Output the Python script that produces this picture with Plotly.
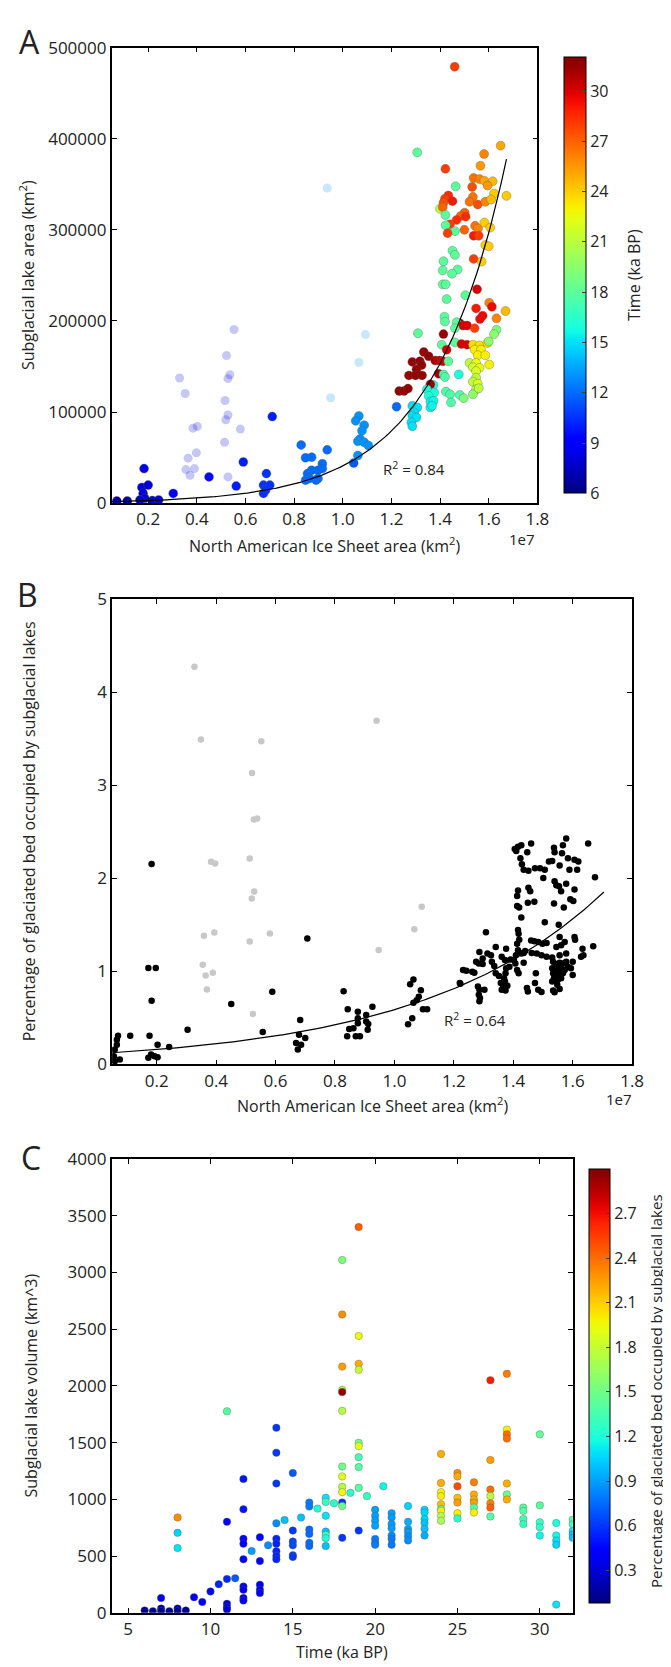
import numpy as np
import plotly.graph_objects as go

# ---------------- Panel A data (x in 1e7 km^2, lake area km^2, time ka BP) -------------
A_area = [0.071, 0.114, 0.183, 0.174, 0.200, 0.179, 0.186, 0.166, 0.217, 0.243, 0.303, 0.450,
          0.591, 0.562, 0.710, 0.686, 0.674, 0.683, 0.700, 0.674, 0.829, 0.847, 0.872, 0.855,
          0.872, 0.863, 0.847, 0.898, 0.916, 0.916, 0.898, 0.936, 0.890, 1.045, 1.066, 1.053,
          1.088, 1.071, 1.079, 1.062, 1.088, 1.105, 1.062,
          1.46, 1.306, 1.649, 1.581, 1.422, 1.566, 1.464, 1.538, 1.562, 1.582, 1.616, 1.595,
          1.532, 1.622, 1.673, 1.434, 1.420, 1.414, 1.451, 1.535, 1.521, 1.555, 1.586, 1.610,
          1.400, 1.411, 1.422, 1.501, 1.485, 1.468, 1.441, 1.423, 1.505, 1.544, 1.556, 1.582,
          1.606, 1.500, 1.461, 1.431, 1.538, 1.559, 1.586, 1.600, 1.451, 1.461, 1.538, 1.571,
          1.414, 1.411, 1.472, 1.449, 1.411, 1.423, 1.504, 1.427, 1.552, 1.602,
          1.548, 1.613, 1.669, 1.575, 1.564, 1.632, 1.418, 1.420, 1.481, 1.468, 1.494, 1.511,
          1.542, 1.461, 1.632, 1.622, 1.309, 1.414, 1.461, 1.488, 1.511, 1.535, 1.562, 1.595,
          1.600, 1.407, 1.427, 1.542, 1.568, 1.333, 1.353, 1.555, 1.586, 1.380, 1.398, 1.411,
          1.286, 1.317, 1.434, 1.521, 1.548, 1.602, 1.324, 1.535, 1.562, 1.303, 1.548, 1.394,
          1.477, 1.414, 1.272, 1.299, 1.326, 1.420, 1.548, 1.535, 1.555, 1.373, 1.360, 1.548,
          1.232, 1.252, 1.268, 1.346, 1.376, 1.424, 1.441, 1.481, 1.497, 1.535, 1.559, 1.353,
          1.445, 1.360, 1.373, 1.360, 1.367, 1.221, 1.286, 1.306, 1.293, 1.286, 1.303, 1.282,
          1.286]
A_lake = [2500, 2500, 38000, 17400, 19900, 10800, 5400, 3600, 2900, 3600, 10800, 28900,
          45200, 18800, 95100, 32500, 19900, 14500, 19900, 10800, 64000, 49900, 50600, 32500,
          36200, 27100, 25300, 36200, 43400, 38000, 27100, 58600, 25300, 44100, 95800, 90400,
          85700, 70500, 79600, 68000, 66900, 63300, 52400,
          479000, 385000, 392400, 383300, 367000, 370300, 347800, 356900, 355800, 354000, 353300, 348600,
          347100, 339900, 337300, 337700, 334100, 329700, 331500, 336200, 330800, 327900, 330800, 333300,
          323200, 325000, 316300, 318800, 315200, 310900, 306200, 305100, 314500, 304400, 301500, 308000,
          302500, 300000, 298600, 296400, 293500, 293500, 283300, 281900, 277200, 272500, 268100, 265200,
          265600, 255500, 256500, 251800, 240200, 240200, 228300, 224000, 234800, 220000,
          213800, 215600, 210900, 205800, 202200, 202900, 204700, 199300, 197500, 198600, 195000, 195000,
          192100, 192100, 190300, 185600, 186600, 185600, 176500, 174700, 174000, 174000, 173200, 175800,
          177600, 174000, 168500, 168500, 168500, 166000, 161300, 162400, 162400, 156600, 156600, 155800,
          155100, 155800, 155800, 154000, 154000, 152200, 151500, 149300, 148600, 146800, 145000, 142100,
          141300, 141300, 140300, 140300, 140300, 138500, 137700, 133400, 131200, 129700, 130500, 125000,
          123200, 123200, 125800, 125000, 121400, 122500, 119600, 118900, 115300, 119600, 126100, 117800,
          110600, 111600, 112400, 105100, 106900, 105900, 106900, 105100, 99700, 96100, 94200, 88800,
          84500]
A_time = [7, 7, 8.5, 8, 8, 8, 8, 7.5, 8, 8, 9, 9.5,
          10, 10, 10, 10.5, 10.5, 10.5, 10.5, 10.5, 12, 12, 12, 12,
          12, 12, 12, 12, 12, 12, 12, 12, 12, 11.5, 13, 13,
          13, 13, 13, 13, 13, 13, 13,
          28, 18, 25, 26, 28, 25.5, 18, 26.5, 26, 25, 24.5, 25.5,
          27.5, 24, 24, 28.5, 28, 27.5, 29, 26.5, 26.5, 27.5, 26, 24.5,
          21, 27, 18, 27, 27, 28.5, 28, 18, 28.5, 26.5, 26, 24,
          24, 27, 18, 28, 29, 28, 24, 24, 18, 18, 28, 24,
          18, 18, 18, 18, 18, 18, 18, 18, 30, 26,
          29, 29.5, 24.5, 29.5, 29.5, 26, 18, 18, 31.5, 18, 30, 30,
          28, 18, 19, 19.5, 18, 31.5, 18, 30, 30, 23.5, 23.5, 23.5,
          19.5, 18, 30, 23, 23, 31.5, 31.5, 23, 23, 31, 30.5, 30,
          31.5, 31.5, 18, 21, 22.5, 23, 31.5, 21.5, 22.5, 31.5, 22, 31,
          16, 17.5, 31.5, 31.5, 31.5, 17.5, 21, 21, 22, 16, 31.5, 21,
          31.5, 31.5, 31.5, 16, 16, 17.5, 17.5, 17.5, 19, 19.5, 21, 16,
          17.5, 15.5, 15.5, 15.5, 15.5, 12, 15, 15, 15, 15, 15, 15,
          15]
# faded (semi-transparent) points of panel A
A_faded_area = [0.329, 0.352, 0.384, 0.402, 0.398, 0.364, 0.355, 0.372, 0.390, 0.553, 0.522,
                0.536, 0.528, 0.516, 0.528, 0.519, 0.579, 0.514, 0.528,
                0.936, 1.093, 1.066, 0.950]
A_faded_lake = [137400, 120400, 82400, 84300, 55300, 49500, 36900, 30700, 38000, 190600, 162000,
                141000, 136700, 112800, 96900, 91500, 81400, 66900, 28900,
                345800, 185100, 154400, 115700]
A_faded_time = [8] * 19 + [13] * 4
A_fit = (1511.0, 3.3)          # y = a*exp(b*x)
A_fit_range = (0.05, 1.673)

# ---------------- Panel B data (x in 1e7 km^2, % of glaciated bed) ----------------------
B_area = [0.066, 0.059, 0.056, 0.059, 0.070, 0.066, 0.076, 0.111, 0.183, 0.172, 0.197, 0.183,
          0.176, 0.172, 0.181, 0.193, 0.203, 0.203, 0.242, 0.304, 0.451, 0.557, 0.589, 0.707,
          0.683, 0.679, 0.669, 0.675, 0.686, 0.700, 0.829, 0.843, 0.848, 0.841, 0.862, 0.877,
          0.877, 0.877, 0.870, 0.884, 0.905, 0.905, 0.912, 0.910, 0.926, 1.046, 1.053, 1.064,
          1.064, 1.075, 1.082, 1.089, 1.096, 1.110, 1.060, 1.222,
          1.405, 1.416, 1.427, 1.410, 1.460, 1.424, 1.429, 1.435, 1.447, 1.473, 1.490, 1.506,
          1.501, 1.451, 1.539, 1.537, 1.567, 1.578, 1.564, 1.584, 1.606, 1.619, 1.520, 1.531,
          1.556, 1.589, 1.615, 1.652, 1.675, 1.539, 1.545, 1.554, 1.578, 1.606, 1.561, 1.451,
          1.457, 1.416, 1.413, 1.449, 1.471, 1.413, 1.420, 1.537, 1.570, 1.592, 1.602, 1.427,
          1.506, 1.553, 1.308, 1.416, 1.418, 1.420, 1.460, 1.471, 1.484, 1.498, 1.512, 1.556,
          1.606, 1.608, 1.573, 1.561, 1.545, 1.413, 1.416, 1.409, 1.427, 1.376, 1.341, 1.325,
          1.313, 1.286, 1.297, 1.275, 1.284, 1.297, 1.328, 1.336, 1.231, 1.242, 1.262, 1.269,
          1.361, 1.372, 1.391, 1.402, 1.407, 1.387, 1.435, 1.435, 1.440, 1.462, 1.479, 1.495,
          1.512, 1.531, 1.556, 1.578, 1.628, 1.636, 1.669, 1.633, 1.534, 1.545, 1.556, 1.567,
          1.578, 1.600, 1.531, 1.539, 1.550, 1.561, 1.573, 1.584, 1.594, 1.534, 1.545, 1.556,
          1.567, 1.537, 1.550, 1.561, 1.600, 1.531, 1.548, 1.556, 1.539, 1.534, 1.476, 1.473,
          1.484, 1.495, 1.446, 1.449, 1.413, 1.418, 1.376, 1.374, 1.369, 1.372, 1.365, 1.380,
          1.358, 1.361, 1.374, 1.352, 1.341, 1.281, 1.286, 1.303, 1.284, 1.288, 1.286, 1.220]
B_pct = [0.212, 0.159, 0.088, 0.035, 0.308, 0.265, 0.053, 0.308, 2.152, 1.034, 1.034, 0.683,
         0.308, 0.071, 0.106, 0.088, 0.212, 0.078, 0.188, 0.372, 0.648, 0.347, 0.779, 1.352,
         0.478, 0.319, 0.230, 0.159, 0.212, 0.283, 0.786, 0.591, 0.379, 0.301, 0.389, 0.566,
         0.496, 0.442, 0.301, 0.301, 0.531, 0.460, 0.435, 0.372, 0.619, 0.432, 0.860, 0.913,
         0.662, 0.690, 0.726, 0.796, 0.591, 0.591, 0.496, 0.867,
         2.313, 2.338, 2.355, 2.292, 2.373, 2.214, 2.151, 2.091, 2.278, 2.108, 2.108, 2.091,
         2.002, 2.080, 2.278, 2.327, 2.355, 2.426, 2.267, 2.214, 2.197, 2.179, 2.179, 2.186,
         2.137, 2.091, 2.091, 2.373, 2.009, 1.967, 1.925, 1.914, 1.939, 1.879, 1.861, 1.896,
         1.861, 1.868, 1.808, 1.737, 1.748, 1.702, 1.685, 1.727, 1.685, 1.773, 1.755, 1.579,
         1.526, 1.501, 1.420, 1.444, 1.402, 1.339, 1.332, 1.324, 1.314, 1.296, 1.303, 1.367,
         1.367, 1.339, 1.314, 1.279, 1.261, 1.296, 1.225, 1.173, 1.190, 1.243, 1.261, 1.173,
         1.190, 1.208, 1.137, 1.102, 1.084, 1.077, 1.102, 1.056, 1.014, 1.007, 0.996, 0.985,
         1.155, 1.120, 1.127, 1.120, 1.084, 1.049, 1.091, 1.197, 1.218, 1.197, 1.190, 1.173,
         1.155, 1.148, 1.173, 1.190, 1.155, 1.173, 1.268, 1.243, 1.102, 1.077, 1.091, 1.084,
         1.102, 1.102, 1.032, 1.014, 1.021, 1.032, 1.014, 1.049, 1.032, 0.978, 0.961, 0.971,
         0.978, 0.925, 0.908, 0.925, 0.961, 0.890, 0.855, 0.809, 0.774, 0.795, 0.978, 0.873,
         0.802, 0.777, 0.820, 0.784, 1.014, 0.978, 1.032, 0.978, 0.925, 0.890, 0.855, 0.844,
         0.873, 0.802, 0.795, 0.950, 0.978, 0.837, 0.802, 0.802, 0.749, 0.714, 0.678, 0.873]
B_faded_area = [0.327, 0.349, 0.552, 0.940, 0.521, 0.527, 0.538, 0.383, 0.397, 0.513, 0.528,
                0.520, 0.359, 0.394, 0.581, 0.513, 0.355, 0.365, 0.389, 0.369, 0.524, 0.947,
                1.067, 1.092]
B_faded_pct = [4.27, 3.49, 3.47, 3.69, 3.13, 2.63, 2.64, 2.177, 2.159, 2.212, 1.858, 1.781,
               1.381, 1.416, 1.405, 1.320, 1.069, 0.956, 0.984, 0.804, 0.542, 1.228, 1.451, 1.692]
B_fit = (0.115, 1.63)
B_fit_range = (0.05, 1.705)

# ---------------- Panel C data (time ka BP, volume km^3, % of bed) ---------------------
C_time = [6, 6.5, 7, 7, 7, 7.5, 8, 8, 8, 8, 8, 8.5, 9, 9.5, 10, 10.5,
          11, 11, 11, 11, 11, 11, 11.5,
          12, 12, 12, 12, 12, 12, 12, 12, 12, 12.5,
          13, 13, 13, 13, 13, 13.5,
          14, 14, 14, 14, 14, 14, 14, 14, 14, 14.5,
          15, 15, 15, 15, 15, 15, 15.5,
          16, 16, 16, 16, 16, 16, 16.5,
          17, 17, 17, 17, 17, 17, 17, 17.5,
          18, 18, 18, 18, 18, 18, 18, 18, 18, 18, 18, 18, 18, 18.5,
          19, 19, 19, 19, 19, 19, 19, 19, 19, 19, 19.5,
          20, 20, 20, 20, 20, 20, 20, 20.5,
          21, 21, 21, 21, 21, 21, 21,
          22, 22, 22, 22, 22, 22,
          23, 23, 23, 23, 23, 23,
          24, 24, 24, 24, 24, 24, 24, 24, 24,
          25, 25, 25, 25, 25, 25, 25,
          26, 26, 26, 26, 26, 26,
          27, 27, 27, 27, 27, 27, 27,
          28, 28, 28, 28, 28, 28, 28,
          29, 29, 29, 29,
          30, 30, 30, 30, 30,
          31, 31, 31, 31, 31,
          32, 32, 32, 32, 32]
C_volume = [20, 14, 37, 130, 14, 14, 37, 14, 840, 704, 570, 20, 136, 95, 188, 252,
            298, 78, 49, 28, 1776, 802, 304,
            1179, 912, 652, 608, 472, 231, 202, 130, 107, 544,
            666, 455, 246, 202, 173, 594,
            1631, 1411, 1139, 788, 652, 608, 542, 501, 472, 817,
            1231, 724, 628, 594, 507, 492, 840,
            971, 936, 733, 695, 617, 588, 918,
            1014, 976, 855, 715, 686, 657, 588, 965,
            3110, 2630, 2170, 1965, 1945, 1780, 1289, 1202, 1110, 1063, 971, 941, 660, 1057,
            3400, 2440, 2195, 2142, 1498, 1469, 1371, 1284, 1101, 724, 1028,
            907, 855, 811, 767, 651, 617, 599, 1115,
            878, 840, 782, 744, 681, 651, 599,
            941, 802, 739, 710, 675, 637,
            907, 884, 826, 791, 739, 681,
            1400, 1144, 1063, 1028, 956, 913, 898, 855, 811,
            1231, 1202, 1115, 1014, 971, 878, 831,
            1150, 1043, 999, 971, 927, 884,
            2050, 1347, 1086, 1028, 965, 927, 849,
            2107, 1614, 1573, 1536, 1139, 1043, 999,
            927, 898, 826, 782,
            1573, 947, 797, 753, 681,
            791, 681, 637, 599, 72,
            820, 780, 720, 690, 660]
C_pct = [0.15, 0.15, 0.2, 0.35, 0.15, 0.15, 0.2, 0.15, 2.3, 1.05, 1.1, 0.15, 0.4, 0.45, 0.45, 0.55,
         0.55, 0.3, 0.3, 0.3, 1.4, 0.45, 0.7,
         0.5, 0.5, 0.45, 0.45, 0.45, 0.35, 0.35, 0.35, 0.35, 0.9,
         0.45, 0.45, 0.4, 0.4, 0.4, 0.85,
         0.6, 0.6, 0.6, 0.85, 0.55, 0.55, 0.55, 0.55, 0.55, 1.0,
         0.7, 0.6, 0.65, 0.65, 0.6, 0.6, 1.0,
         0.8, 0.8, 0.75, 0.75, 0.75, 0.75, 1.2,
         1.1, 1.3, 1.1, 1.0, 1.3, 1.2, 1.0, 1.25,
         1.55, 2.3, 2.25, 1.75, 2.95, 1.75, 1.5, 1.9, 1.75, 1.95, 0.6, 1.5, 0.6, 1.25,
         2.45, 1.95, 2.2, 1.8, 1.5, 1.9, 1.35, 1.4, 1.4, 0.6, 1.3,
         0.9, 0.9, 0.9, 0.9, 0.8, 0.8, 0.8, 1.15,
         0.9, 0.9, 0.9, 0.9, 0.85, 0.8, 0.8,
         1.05, 0.95, 0.9, 0.9, 0.85, 0.85,
         1.05, 1.05, 1.05, 1.0, 1.0, 0.95,
         2.2, 2.2, 2.0, 2.0, 2.15, 1.4, 1.95, 1.75, 1.7,
         2.3, 2.2, 2.5, 2.15, 2.25, 2.0, 1.25,
         2.35, 2.2, 2.2, 2.25, 1.4, 2.0,
         2.65, 2.25, 2.4, 1.75, 2.35, 2.45, 1.4,
         2.35, 2.0, 2.4, 2.4, 2.2, 1.5, 2.2,
         1.4, 1.4, 1.35, 1.3,
         1.45, 1.4, 1.3, 1.25, 1.15,
         1.2, 1.15, 1.1, 1.05, 1.1,
         1.4, 1.3, 1.1, 1.0, 1.0]

# ---------------- styling helpers ----------------
def jet_scale(n=41):
    s = np.linspace(0, 1, n)
    r = np.interp(s, [0, 0.35, 0.66, 0.89, 1], [0, 0, 1, 1, 0.5])
    g = np.interp(s, [0, 0.125, 0.375, 0.64, 0.91, 1], [0, 0, 1, 1, 0, 0])
    b = np.interp(s, [0, 0.11, 0.34, 0.65, 1], [0.5, 1, 1, 0, 0])
    return [[float(v), f"rgb({int(rr*255)},{int(gg*255)},{int(bb*255)})"] for v, rr, gg, bb in zip(s, r, g, b)]

JET = jet_scale()
W, H = 671, 1667
FONT = "Open Sans"
TICK = 17
CBTICK = 16
TITLE = 16

def px_x(p):
    return p / W

def px_y(p):
    return 1 - p / H

fig = go.Figure()

# Panel A
fig.add_trace(go.Scatter(x=A_faded_area, y=A_faded_lake, mode="markers", xaxis="x", yaxis="y",
                         marker=dict(size=9, color=A_faded_time, colorscale=JET, cmin=6, cmax=32,
                                     showscale=False, opacity=0.22), showlegend=False))
fig.add_trace(go.Scatter(x=A_area, y=A_lake, mode="markers", xaxis="x", yaxis="y",
                         marker=dict(size=9, color=A_time, colorscale=JET, cmin=6, cmax=32,
                                     line=dict(width=0.6, color="rgba(90,90,90,0.6)"),
                                     colorbar=dict(x=px_x(566), xanchor="left", xpad=0, thickness=22,
                                                   len=(490 - 28) / H, lenmode="fraction",
                                                   y=px_y((28 + 490) / 2), yanchor="middle",
                                                   tickvals=[6, 9, 12, 15, 18, 21, 24, 27, 30],
                                                   ticks="inside", ticklen=4, outlinewidth=1,
                                                   outlinecolor="black",
                                                   tickfont=dict(size=CBTICK, family=FONT, color="#222"))),
                         showlegend=False))
ax = np.linspace(*A_fit_range, 200)
fig.add_trace(go.Scatter(x=ax, y=A_fit[0] * np.exp(A_fit[1] * ax), mode="lines", xaxis="x", yaxis="y",
                         line=dict(color="black", width=1.2), showlegend=False))

# Panel B
fig.add_trace(go.Scatter(x=B_faded_area, y=B_faded_pct, mode="markers", xaxis="x2", yaxis="y2",
                         marker=dict(size=6.5, color="#c8c8c8"), showlegend=False))
fig.add_trace(go.Scatter(x=B_area, y=B_pct, mode="markers", xaxis="x2", yaxis="y2",
                         marker=dict(size=6.5, color="black"), showlegend=False))
bx = np.linspace(*B_fit_range, 200)
fig.add_trace(go.Scatter(x=bx, y=B_fit[0] * np.exp(B_fit[1] * bx), mode="lines", xaxis="x2", yaxis="y2",
                         line=dict(color="black", width=1.2), showlegend=False))

# Panel C
fig.add_trace(go.Scatter(x=C_time, y=C_volume, mode="markers", xaxis="x3", yaxis="y3",
                         marker=dict(size=7.5, color=C_pct, colorscale=JET, cmin=0.08, cmax=3.0,
                                     line=dict(width=0.6, color="rgba(90,90,90,0.6)"),
                                     colorbar=dict(x=px_x(592), xanchor="left", xpad=0, thickness=21,
                                                   len=(1615 - 1155) / H, lenmode="fraction",
                                                   y=px_y((1155 + 1615) / 2), yanchor="middle",
                                                   tickvals=[0.3, 0.6, 0.9, 1.2, 1.5, 1.8, 2.1, 2.4, 2.7],
                                                   ticktext=["0.3", "0.6", "0.9", "1.2", "1.5", "1.8", "2.1", "2.4", "2.7"],
                                                   ticks="inside", ticklen=4, outlinewidth=1,
                                                   outlinecolor="black",
                                                   tickfont=dict(size=CBTICK, family=FONT, color="#222"))),
                         showlegend=False))

axis_common = dict(showline=True, linecolor="black", linewidth=1.6, mirror="ticks", ticks="inside",
                   ticklen=5, tickwidth=1.2, tickcolor="black", showgrid=False, zeroline=False,
                   tickfont=dict(size=TICK, family=FONT, color="#222"))
xt = [0.2, 0.4, 0.6, 0.8, 1.0, 1.2, 1.4, 1.6, 1.8]
xtt = ["0.2", "0.4", "0.6", "0.8", "1.0", "1.2", "1.4", "1.6", "1.8"]

fig.update_layout(
    width=W, height=H, margin=dict(l=0, r=0, t=0, b=0),
    paper_bgcolor="white", plot_bgcolor="white",
    font=dict(family=FONT, size=TITLE, color="#222"),
    xaxis=dict(domain=[px_x(105.6), px_x(539)], range=[0.05, 1.8], tickvals=xt, ticktext=xtt,
               anchor="y", **axis_common),
    yaxis=dict(domain=[px_y(490), px_y(28)], range=[0, 500000],
               tickvals=[0, 100000, 200000, 300000, 400000, 500000],
               ticktext=["0", "100000", "200000", "300000", "400000", "500000"], anchor="x", **axis_common),
    xaxis2=dict(domain=[px_x(106), px_x(635.5)], range=[0.05, 1.8], tickvals=xt, ticktext=xtt,
                anchor="y2", **axis_common),
    yaxis2=dict(domain=[px_y(1059), px_y(587)], range=[0, 5], tickvals=[0, 1, 2, 3, 4, 5],
                anchor="x2", **axis_common),
    xaxis3=dict(domain=[px_x(105.6), px_x(575)], range=[4, 32], tickvals=[5, 10, 15, 20, 25, 30],
                anchor="y3", **axis_common),
    yaxis3=dict(domain=[px_y(1615), px_y(1155)], range=[0, 4000],
                tickvals=[0, 500, 1000, 1500, 2000, 2500, 3000, 3500, 4000], anchor="x3", **axis_common),
)

def note(text, x, y, size=TITLE, angle=0, xanchor="center", yanchor="middle"):
    fig.add_annotation(text=text, x=px_x(x), y=px_y(y), xref="paper", yref="paper", showarrow=False,
                       textangle=angle, xanchor=xanchor, yanchor=yanchor,
                       font=dict(size=size, family=FONT, color="#222"))

# panel letters
note("A", 22, 22, size=32)
note("B", 20, 583, size=32)
note("C", 23, 1153, size=32)
# panel A texts
note("Subglacial lake area (km<sup>2</sup>)", 20, 259, angle=-90)
note("North American Ice Sheet area (km<sup>2</sup>)", 322, 532)
note("1e7", 523, 526, size=15)
note("R<sup>2</sup> = 0.84", 413, 455, size=15)
note("Time (ka BP)", 638, 259, angle=-90)
# panel B texts
note("Percentage of glaciated bed occupied by subglacial lakes", 21, 823, angle=-90)
note("North American Ice Sheet area (km<sup>2</sup>)", 371, 1100)
note("1e7", 622, 1094, size=15)
note("R<sup>2</sup> = 0.64", 476, 1013, size=15)
# panel C texts
note("Subglacial lake volume (km^3)", 23, 1385, angle=-90)
note("Time (ka BP)", 340, 1655)
note("Percentage of glaciated bed occupied by subglacial lakes", 660, 1390, size=15, angle=-90)

fig.write_html("out.html")
